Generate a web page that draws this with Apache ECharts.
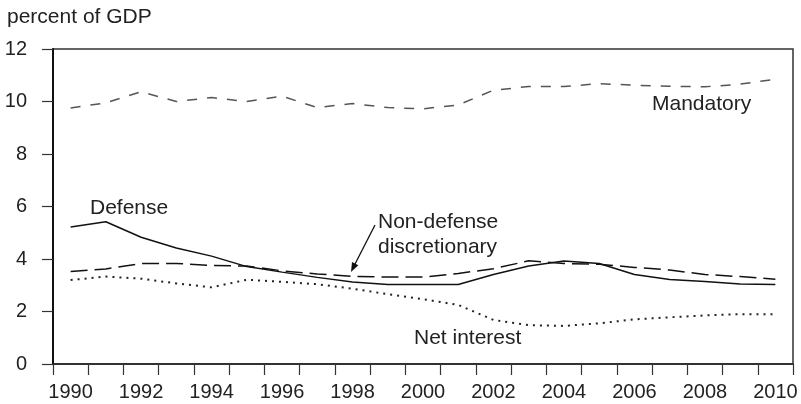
<!DOCTYPE html>
<html>
<head>
<meta charset="utf-8">
<script src="https://cdn.jsdelivr.net/npm/echarts@6/dist/echarts.min.js"></script>
<style>html,body{margin:0;padding:0;background:#fff}#c{width:801px;height:404px}</style>
</head>
<body>
<div id="c"></div>
<script>
var years = ['1990','1991','1992','1993','1994','1995','1996','1997','1998','1999','2000','2001','2002','2003','2004','2005','2006','2007','2008','2009','2010'];
var mandatory = [9.75, 9.95, 10.37, 10.0, 10.15, 10.0, 10.2, 9.77, 9.92, 9.77, 9.72, 9.87, 10.43, 10.57, 10.57, 10.68, 10.62, 10.58, 10.56, 10.66, 10.85];
var defense = [5.22, 5.42, 4.83, 4.42, 4.11, 3.71, 3.5, 3.3, 3.12, 3.03, 3.03, 3.03, 3.41, 3.73, 3.92, 3.83, 3.41, 3.22, 3.14, 3.05, 3.03];
var nonDefense = [3.52, 3.62, 3.83, 3.83, 3.75, 3.73, 3.55, 3.43, 3.34, 3.31, 3.31, 3.45, 3.63, 3.93, 3.83, 3.8, 3.68, 3.58, 3.41, 3.33, 3.23];
var netInterest = [3.2, 3.33, 3.25, 3.07, 2.92, 3.21, 3.13, 3.04, 2.87, 2.66, 2.47, 2.25, 1.68, 1.48, 1.45, 1.55, 1.7, 1.78, 1.85, 1.9, 1.9];
var yTicks = [0, 2, 4, 6, 8, 10, 12];

var FONT = "'Liberation Sans', Arial, sans-serif";
var TXT = '#222';
var chart = echarts.init(document.getElementById('c'), null, {renderer: 'canvas'});

function txt(x, y, s, size) {
  return {type: 'text', x: x, y: y, style: {text: s, fill: TXT, font: (size || 21) + 'px ' + FONT, align: 'left', verticalAlign: 'middle'}};
}

chart.setOption({
  animation: false,
  backgroundColor: '#fff',
  grid: {left: 53, right: 8, top: 49, bottom: 40, show: true, borderColor: '#333', borderWidth: 1.5, backgroundColor: 'transparent'},
  xAxis: {
    type: 'category', data: years, boundaryGap: true,
    axisLine: {lineStyle: {color: '#222', width: 1.5}},
    axisTick: {show: true, interval: 0, length: 11, alignWithLabel: false, lineStyle: {color: '#333', width: 1.2}},
    axisLabel: {interval: 1, fontSize: 20, fontFamily: FONT, color: TXT, margin: 18},
    splitLine: {show: false}
  },
  yAxis: {
    type: 'value', min: yTicks[0], max: yTicks[yTicks.length - 1], interval: 2,
    axisLine: {show: true, lineStyle: {color: '#111', width: 2}},
    axisTick: {show: true, length: 11, lineStyle: {color: '#333', width: 1.2}},
    axisLabel: {fontSize: 20, fontFamily: FONT, color: TXT, margin: 26},
    splitLine: {show: false}
  },
  series: [
    {name: 'Mandatory', type: 'line', data: mandatory, symbol: 'none', lineStyle: {color: '#555', width: 1.5, type: [10, 10]}},
    {name: 'Defense', type: 'line', data: defense, symbol: 'none', lineStyle: {color: '#111', width: 1.5, type: 'solid'}},
    {name: 'Non-defense discretionary', type: 'line', data: nonDefense, symbol: 'none', lineStyle: {color: '#111', width: 1.5, type: [17, 7]}},
    {name: 'Net interest', type: 'line', data: netInterest, symbol: 'none', lineStyle: {color: '#222', width: 2, type: [2, 5]}}
  ],
  graphic: [
    txt(7, 17, 'percent of GDP'),
    txt(90, 208, 'Defense'),
    txt(378, 222, 'Non-defense'),
    txt(378, 247, 'discretionary'),
    txt(414, 338, 'Net interest'),
    txt(652, 104, 'Mandatory'),
    {type: 'line', shape: {x1: 375, y1: 225, x2: 354, y2: 266}, style: {stroke: '#111', lineWidth: 1.3}},
    {type: 'polygon', shape: {points: [[351, 272], [358.4, 265.3], [352, 262]]}, style: {fill: '#111'}}
  ]
});
</script>
</body>
</html>
